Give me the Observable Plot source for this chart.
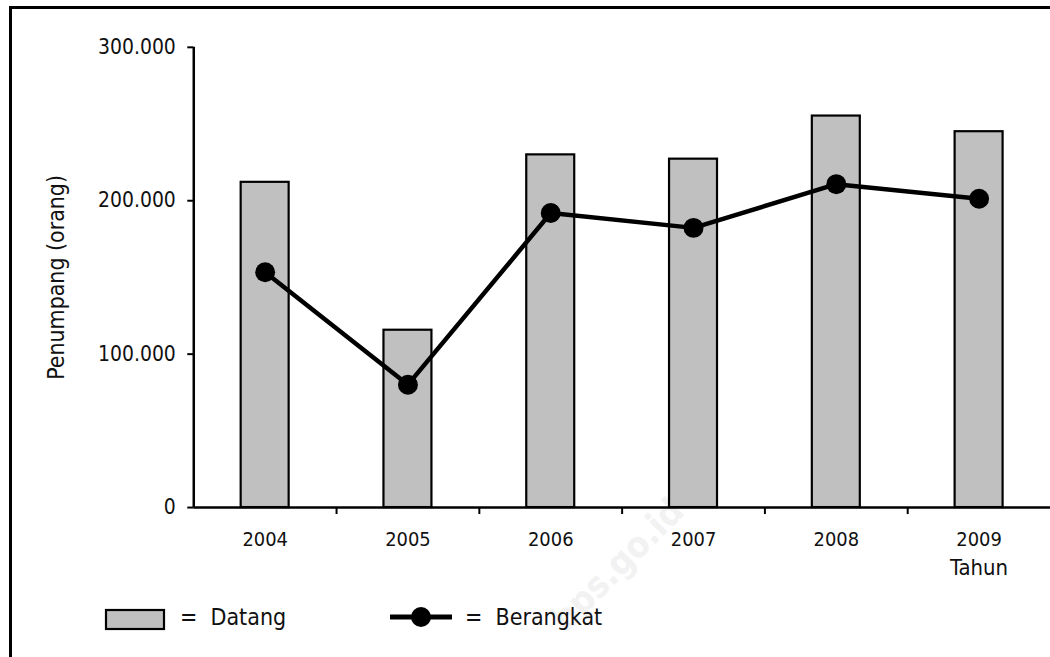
<!DOCTYPE html>
<html>
<head>
<meta charset="utf-8">
<script src="https://cdn.jsdelivr.net/npm/d3@7"></script>
<script src="https://cdn.jsdelivr.net/npm/@observablehq/plot@0.6"></script>
<style>
  html, body { margin: 0; padding: 0; background: #fff; width: 1050px; height: 657px; overflow: hidden; }
  body { position: relative; font-family: "DejaVu Sans Condensed", "DejaVu Sans", sans-serif; font-stretch: condensed; }
  #frame { position: absolute; left: 9px; top: 6px; width: 1200px; height: 800px; border-left: 3px solid #000; border-top: 3px solid #000; box-sizing: border-box; }
  #chart { position: absolute; left: 0; top: 0; }
  #chart svg { font-family: "DejaVu Sans Condensed", "DejaVu Sans", sans-serif; font-stretch: condensed; }
  .leg { position: absolute; font-size: 23px; color: #111; white-space: nowrap; }
  .wm { position: absolute; left: 572px; top: 598px; font-size: 36px; font-weight: bold; color: #f2f2f2; transform: rotate(-45deg); transform-origin: left bottom; font-family: "DejaVu Sans", sans-serif; line-height: 42px; }
</style>
</head>
<body>
<div class="wm">bps.go.id</div>
<div id="frame"></div>
<div id="chart"></div>
<svg class="leg" style="left:104px; top:608px;" width="62" height="23"><rect x="2" y="2" width="58" height="19" fill="#c0c0c0" stroke="#000" stroke-width="2.2"/></svg>
<div class="leg" style="left:180px; top:604px;">=&nbsp;&nbsp;Datang</div>
<svg class="leg" style="left:388px; top:605px;" width="66" height="24"><line x1="2" y1="12" x2="64" y2="12" stroke="#000" stroke-width="5"/><circle cx="33" cy="12" r="10" fill="#000"/></svg>
<div class="leg" style="left:465px; top:604px;">=&nbsp;&nbsp;Berangkat</div>
<script>
const years = [2004, 2005, 2006, 2007, 2008, 2009];
const datang = [212000, 115600, 229900, 227100, 255200, 245000];
const berangkat = [153400, 80100, 192000, 182300, 210800, 201300];
const yTicks = [0, 100000, 200000, 300000];
const yLabel = "Penumpang (orang)";
const xLabel = "Tahun";

const data = years.map((year, i) => ({year, datang: datang[i], berangkat: berangkat[i]}));
const boundaries = years.slice(0, -1).map(y => y + 0.5);
const fmt = d => d3.format(",")(d).replace(/,/g, ".");
const halfBar = 0.168;

const chart = Plot.plot({
  width: 1054,
  height: 580,
  marginLeft: 194,
  marginRight: 0,
  marginTop: 47,
  marginBottom: 71,
  x: {domain: [years[0] - 0.5, years[years.length - 1] + 0.5]},
  y: {domain: [0, 300000]},
  style: {background: "transparent", overflow: "visible"},
  marks: [
    Plot.rectY(data, {x1: d => d.year - halfBar, x2: d => d.year + halfBar, y: "datang", fill: "#c0c0c0", stroke: "#000", strokeWidth: 2.2}),
    Plot.ruleY([0], {stroke: "#000", strokeWidth: 2.5}),
    Plot.ruleX([years[0] - 0.5], {y1: 0, y2: 300000, stroke: "#000", strokeWidth: 2.5}),
    Plot.axisY({ticks: yTicks, tickSize: 6, tickPadding: 12, tickFormat: fmt, fontSize: 21, strokeWidth: 2, stroke: "#000", color: "#111", label: null}),
    Plot.axisY({ticks: [], tickSize: 0, fontSize: 23, color: "#111",
      label: yLabel, labelAnchor: "center", labelArrow: "none", labelOffset: 147}),
    Plot.axisX({ticks: boundaries, tickSize: 7, tickFormat: () => "", strokeWidth: 2, stroke: "#000", label: null}),
    Plot.axisX({ticks: years, tickSize: 0, tickPadding: 24, tickFormat: d => String(d), fontSize: 20, color: "#111", label: null}),
    Plot.text([xLabel], {x: [years[years.length - 1]], y: [0], dy: 61, fontSize: 22, fill: "#111"}),
    Plot.line(data, {x: "year", y: "berangkat", stroke: "#000", strokeWidth: 4.5}),
    Plot.dot(data, {x: "year", y: "berangkat", r: 10, fill: "#000"})
  ]
});
document.getElementById("chart").appendChild(chart);
</script>
</body>
</html>
